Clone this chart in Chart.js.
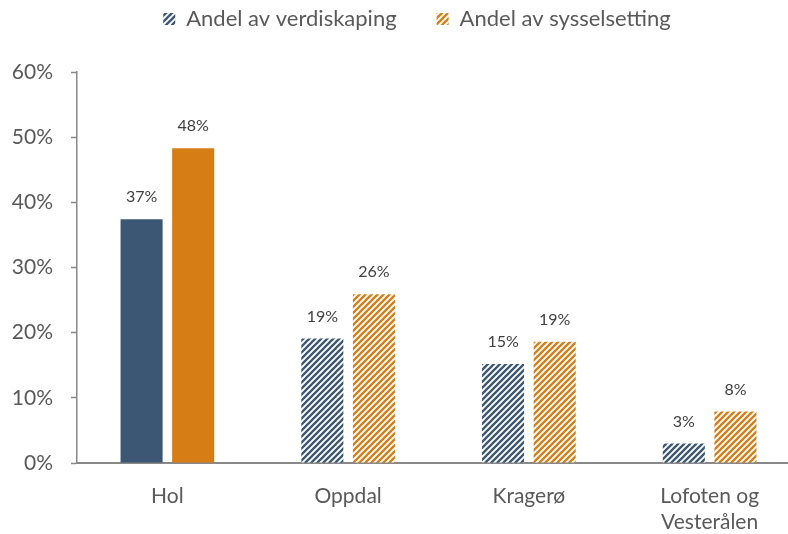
<!DOCTYPE html>
<html><head><meta charset="utf-8">
<script src="https://cdn.jsdelivr.net/npm/chart.js@4.4.1/dist/chart.umd.min.js"></script>
<style>html,body{margin:0;padding:0;overflow:hidden;background:#fff;width:788px;height:534px}
#wrap{width:800px;height:534px;position:relative}</style></head>
<body><div id="wrap"><canvas id="c"></canvas></div>
<script>
const categories = ["Hol", "Oppdal", "Kragerø", ["Lofoten og", "Vesterålen"]];
const seriesNames = ["Andel av verdiskaping", "Andel av sysselsetting"];
const verdiskaping = [37.4, 19.1, 15.2, 3.0];
const sysselsetting = [48.3, 25.9, 18.6, 7.9];
const yTicks = [0, 10, 20, 30, 40, 50, 60];
const colors = ["#3B5773", "#D67D16"];
const FONT = "Lato, 'Open Sans', sans-serif";

function hatch(color){
  const s = 6, c = document.createElement('canvas');
  c.width = s; c.height = s;
  const x = c.getContext('2d');
  x.fillStyle = '#fff'; x.fillRect(0,0,s,s);
  x.strokeStyle = color; x.lineWidth = 2.3; x.lineCap = 'square';
  x.beginPath();
  x.moveTo(0, s); x.lineTo(s, 0);
  x.moveTo(-s/2, s/2); x.lineTo(s/2, -s/2);
  x.moveTo(s/2, s*1.5); x.lineTo(s*1.5, s/2);
  x.stroke();
  return x.createPattern(c, 'repeat');
}
const pats = colors.map(hatch);
function fills(i){ return categories.map((_, k) => k === 0 ? colors[i] : pats[i]); }

const labelPlugin = {
  id: 'vlabels',
  afterDatasetsDraw(chart){
    const ctx = chart.ctx;
    ctx.save();
    ctx.font = "16px " + FONT;
    ctx.fillStyle = '#404040';
    ctx.textAlign = 'center';
    ctx.textBaseline = 'middle';
    chart.data.datasets.forEach((ds, i) => {
      chart.getDatasetMeta(i).data.forEach((bar, k) => {
        ctx.fillText(Math.round(ds.data[k]) + '%', bar.x, bar.y - 22);
      });
    });
    ctx.restore();
  }
};

const legendSpace = {
  id: 'legendSpace',
  beforeInit(chart){
    const lg = chart.legend;
    if (!lg) return;
    const fit = lg.fit;
    lg.fit = function(){ fit.call(this); this.height += 32; };
    const draw = lg.draw;
    lg.draw = function(){
      const ctx = this.ctx;
      ctx.save(); ctx.translate(17, 0);
      draw.call(this);
      ctx.restore();
    };
  }
};

new Chart(document.getElementById('c'), {
  type: 'bar',
  data: {
    labels: categories,
    datasets: [
      { label: seriesNames[0], data: verdiskaping, backgroundColor: fills(0), borderWidth: 0 },
      { label: seriesNames[1], data: sysselsetting, backgroundColor: fills(1), borderWidth: 0 }
    ]
  },
  options: {
    responsive: true, maintainAspectRatio: false, animation: false,
    layout: { padding: { left: 0, right: 0, top: -32, bottom: 0 } },
    categoryPercentage: 0.571, barPercentage: 0.815,
    plugins: {
      legend: {
        position: 'top',
        labels: {
          font: { size: 22, family: FONT }, color: '#595959',
          boxWidth: 12, boxHeight: 12, padding: 40,
          generateLabels(chart){
            return chart.data.datasets.map((ds, i) => ({
              text: ds.label, fillStyle: pats[i], strokeStyle: 'transparent', lineWidth: 0,
              fontColor: '#595959', datasetIndex: i, hidden: false
            }));
          }
        }
      },
      tooltip: { enabled: false }
    },
    scales: {
      x: {
        grid: { display: false },
        border: { color: '#898989', width: 2 },
        afterFit(axis){ axis.height = 71; },
        ticks: { font: { size: 21, family: FONT, lineHeight: 1.2 }, color: '#595959', padding: 13 }
      },
      y: {
        min: 0, max: 60,
        afterBuildTicks(axis){ axis.ticks = yTicks.map(v => ({ value: v })); },
        afterFit(axis){ axis.width = 77; },
        grid: { drawOnChartArea: false, tickLength: 6, color: '#898989', tickWidth: 1.5 },
        border: { color: '#898989', width: 1.5 },
        ticks: { font: { size: 21, family: FONT }, color: '#595959', padding: 18, callback: v => v + '%' }
      }
    }
  },
  plugins: [labelPlugin, legendSpace]
});
</script></body></html>
